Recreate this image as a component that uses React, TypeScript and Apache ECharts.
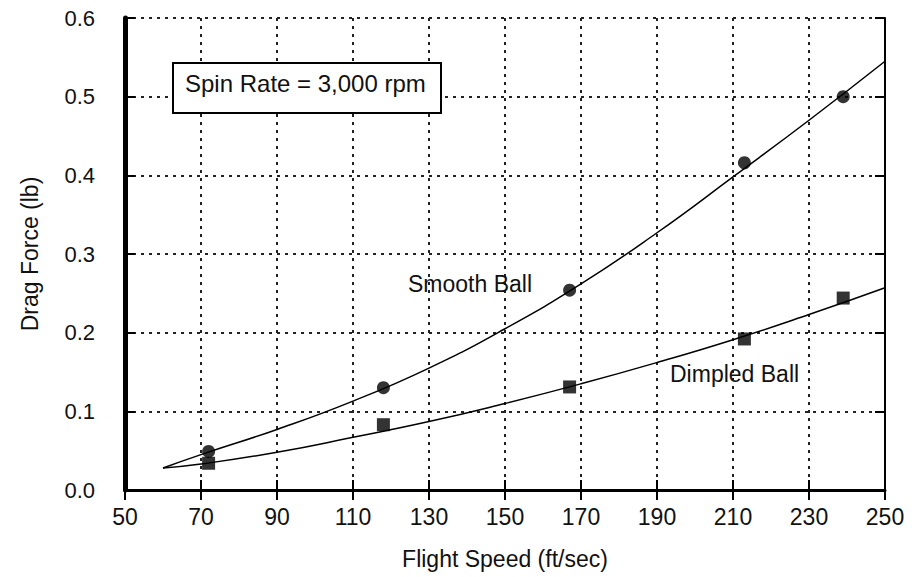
import React, { useEffect, useRef } from "react";
import * as echarts from "echarts";

const xTicks = [50, 70, 90, 110, 130, 150, 170, 190, 210, 230, 250];
const speeds = [72, 118, 167, 213, 239];
const smoothPoints = [0.049, 0.13, 0.254, 0.416, 0.5];
const dimpledPoints = [0.034, 0.083, 0.131, 0.192, 0.244];
const curveSpeeds = [60, 70, 90, 110, 130, 150, 170, 190, 210, 230, 250];
const smoothCurve = [0.028, 0.045, 0.077, 0.113, 0.155, 0.205, 0.262, 0.327, 0.398, 0.47, 0.545];
const dimpledCurve = [0.028, 0.033, 0.048, 0.067, 0.087, 0.11, 0.135, 0.162, 0.191, 0.223, 0.257];

const FONT = "Liberation Sans, Arial, sans-serif";

export default function App() {
  const ref = useRef<HTMLDivElement>(null);
  useEffect(() => {
    if (!ref.current) return;
    const chart = echarts.init(ref.current, null, { renderer: "svg" });
    const pair = (xs: number[], ys: number[]) => xs.map((x, i) => [x, ys[i]]);
    const gridDot = { show: true, lineStyle: { color: "#222", type: [3, 5] as any, width: 2 } };
    chart.setOption({
      animation: false,
      backgroundColor: "#fff",
      grid: { left: 125, right: 35, top: 18, bottom: 87 },
      xAxis: [
        {
          type: "value", min: xTicks[0], max: xTicks[xTicks.length - 1], interval: 20,
          name: "Flight Speed (ft/sec)", nameLocation: "middle", nameGap: 57,
          nameTextStyle: { fontFamily: FONT, fontSize: 23, color: "#111" },
          axisLine: { show: true, onZero: false, lineStyle: { color: "#000", width: 3 } },
          axisTick: { show: true, inside: true, length: 10, lineStyle: { color: "#000", width: 2 } },
          axisLabel: { fontFamily: FONT, fontSize: 23, color: "#111", margin: 15 },
          splitLine: gridDot,
        },
        {
          type: "value", min: xTicks[0], max: xTicks[xTicks.length - 1], interval: 20, position: "top",
          axisLine: { show: true, lineStyle: { color: "#000", width: 2 } },
          axisTick: { show: true, inside: true, length: 10, lineStyle: { color: "#000", width: 2 } },
          axisLabel: { show: false }, splitLine: { show: false },
        },
      ],
      yAxis: [
        {
          type: "value", min: 0, max: 0.6, interval: 0.1,
          name: "Drag Force (lb)", nameLocation: "middle", nameGap: 84,
          nameTextStyle: { fontFamily: FONT, fontSize: 23, color: "#111" },
          axisLine: { show: true, onZero: false, lineStyle: { color: "#000", width: 5 } },
          axisTick: { show: true, inside: true, length: 10, lineStyle: { color: "#000", width: 2 } },
          axisLabel: { fontFamily: FONT, fontSize: 22, color: "#111", margin: 30, formatter: (v: number) => v.toFixed(1) },
          splitLine: gridDot,
        },
        {
          type: "value", min: 0, max: 0.6, interval: 0.1, position: "right",
          axisLine: { show: true, lineStyle: { color: "#000", width: 2 } },
          axisTick: { show: true, inside: true, length: 10, lineStyle: { color: "#000", width: 2 } },
          axisLabel: { show: false }, splitLine: { show: false },
        },
      ],
      series: [
        {
          type: "line", smooth: true, showSymbol: false, data: pair(curveSpeeds, smoothCurve),
          lineStyle: { color: "#000", width: 1.5 }, z: 3,
        },
        {
          type: "line", smooth: true, showSymbol: false, data: pair(curveSpeeds, dimpledCurve),
          lineStyle: { color: "#000", width: 1.5 }, z: 3,
        },
        {
          type: "scatter", symbol: "circle", symbolSize: 13, data: pair(speeds, smoothPoints),
          itemStyle: { color: "#000" }, z: 4,
        },
        {
          type: "scatter", symbol: "rect", symbolSize: 13, data: pair(speeds, dimpledPoints),
          itemStyle: { color: "#000" }, z: 4,
        },
      ],
      graphic: [
        {
          type: "rect", left: 172, top: 62, z: 10,
          shape: { width: 268, height: 50 },
          style: { fill: "#fff", stroke: "#000", lineWidth: 2 },
        },
        {
          type: "text", left: 185, top: 71, z: 11,
          style: { text: "Spin Rate = 3,000 rpm", fontFamily: FONT, fontSize: 24, fill: "#111" },
        },
        {
          type: "text", left: 408, top: 272, z: 11,
          style: { text: "Smooth Ball", fontFamily: FONT, fontSize: 23, fill: "#111" },
        },
        {
          type: "text", left: 670, top: 362, z: 11,
          style: { text: "Dimpled Ball", fontFamily: FONT, fontSize: 23, fill: "#111" },
        },
      ],
    });
    return () => chart.dispose();
  }, []);
  return (
    <div
      ref={ref}
      style={{ position: "fixed", left: 0, top: 0, width: 920, height: 577, background: "#fff" }}
    />
  );
}
